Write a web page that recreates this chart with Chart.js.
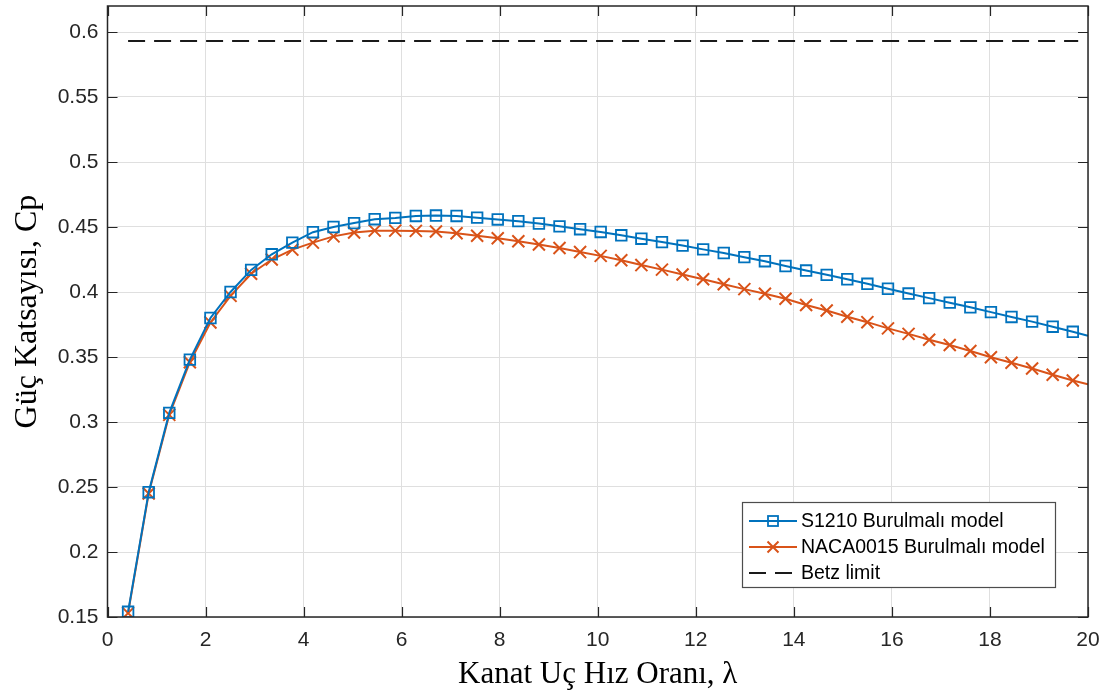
<!DOCTYPE html>
<html>
<head>
<meta charset="utf-8">
<script src="https://cdn.jsdelivr.net/npm/chart.js@4.4.1/dist/chart.umd.min.js"></script>
<style>
  html, body { margin: 0; padding: 0; background: #fff; }
</style>
</head>
<body>
<canvas id="grafico" width="1104" height="693"></canvas>
<script>
// Uç hız oranı (lambda) - son değer (20) sadece çizginin kenara kadar uzaması için, işaretsiz
const lambda = [0.42, 0.84, 1.26, 1.68, 2.10, 2.51, 2.93, 3.35, 3.77, 4.19, 4.61, 5.03, 5.45, 5.87, 6.29, 6.70,
    7.12, 7.54, 7.96, 8.38, 8.80, 9.22, 9.64, 10.06, 10.48, 10.89, 11.31, 11.73, 12.15, 12.57, 12.99, 13.41,
    13.83, 14.25, 14.67, 15.09, 15.50, 15.92, 16.34, 16.76, 17.18, 17.60, 18.02, 18.44, 18.86, 19.28, 19.69, 20];
const cpS1210 = [0.154, 0.246, 0.307, 0.348, 0.380, 0.400, 0.417, 0.429, 0.438, 0.446, 0.450, 0.453, 0.456, 0.457, 0.4585, 0.4588,
    0.4585, 0.4572, 0.4558, 0.4545, 0.4527, 0.4505, 0.4483, 0.4462, 0.4436, 0.4410, 0.4384, 0.4357, 0.4328, 0.4300, 0.4268, 0.4237,
    0.4200, 0.4165, 0.4132, 0.4098, 0.4063, 0.4025, 0.3988, 0.3953, 0.3918, 0.3882, 0.3845, 0.3808, 0.3772, 0.3733, 0.3694, 0.3663];
const cpNaca = [0.153, 0.245, 0.3055, 0.346, 0.3766, 0.397, 0.414, 0.425, 0.4326, 0.438, 0.4428, 0.4458, 0.4472, 0.4472, 0.4470, 0.4465,
    0.4452, 0.4433, 0.4413, 0.4390, 0.4365, 0.4338, 0.4307, 0.4278, 0.4244, 0.4207, 0.4172, 0.4135, 0.4098, 0.4060, 0.4022, 0.3987,
    0.3948, 0.3900, 0.3858, 0.3810, 0.3768, 0.3720, 0.3678, 0.3633, 0.3592, 0.3546, 0.3498, 0.3456, 0.3412, 0.3364, 0.3319, 0.3291];
const betzX = [0.42, 19.8];
const betzCp = [0.593, 0.593];
const xTicks = [0, 2, 4, 6, 8, 10, 12, 14, 16, 18, 20];
const yTicks = [0.15, 0.2, 0.25, 0.3, 0.35, 0.4, 0.45, 0.5, 0.55, 0.6];

const azul = "#0072BD";
const naranja = "#D95319";
const ejeColor = "#262626";
const nMarcas = 47;

const puntos = (xs, ys) => xs.map((x, i) => ({ x: x, y: ys[i] }));

// caja del eje con marcas hacia dentro (estilo MATLAB)
const marcoEjes = {
    id: "marcoEjes",
    afterDatasetsDraw(chart) {
        const { ctx, chartArea: a, scales } = chart;
        const largo = 10;
        ctx.save();
        ctx.strokeStyle = ejeColor;
        ctx.lineWidth = 1.2;
        ctx.beginPath();
        xTicks.forEach(v => {
            const px = Math.round(scales.x.getPixelForValue(v)) + 0.5;
            ctx.moveTo(px, a.bottom); ctx.lineTo(px, a.bottom - largo);
            ctx.moveTo(px, a.top); ctx.lineTo(px, a.top + largo);
        });
        yTicks.forEach(v => {
            const py = Math.round(scales.y.getPixelForValue(v)) + 0.5;
            ctx.moveTo(a.left, py); ctx.lineTo(a.left + largo, py);
            ctx.moveTo(a.right, py); ctx.lineTo(a.right - largo, py);
        });
        ctx.stroke();
        ctx.lineWidth = 1.5;
        ctx.strokeRect(a.left, a.top, a.right - a.left, a.bottom - a.top);
        ctx.restore();
    }
};

// leyenda dentro del área, abajo a la derecha
const leyenda = {
    id: "leyenda",
    afterDraw(chart) {
        const ctx = chart.ctx;
        const caja = { x: 742.5, y: 502.5, w: 313, h: 85 };
        const filas = [521, 547, 573];
        ctx.save();
        ctx.fillStyle = "#fff";
        ctx.fillRect(caja.x, caja.y, caja.w, caja.h);
        ctx.strokeStyle = "#4d4d4d";
        ctx.lineWidth = 1.2;
        ctx.strokeRect(caja.x, caja.y, caja.w, caja.h);
        chart.data.datasets.forEach((ds, i) => {
            const y = filas[i];
            ctx.strokeStyle = ds.borderColor;
            ctx.lineWidth = 2;
            ctx.setLineDash(ds.borderDash || []);
            ctx.beginPath();
            ctx.moveTo(749, y); ctx.lineTo(797, y);
            ctx.stroke();
            ctx.setLineDash([]);
            if (ds.pointStyle === "rect") {
                ctx.lineWidth = 1.8;
                ctx.strokeRect(768, y - 5, 10, 10);
            } else if (ds.pointStyle === "crossRot") {
                ctx.lineWidth = 2;
                ctx.beginPath();
                ctx.moveTo(767.5, y - 5.5); ctx.lineTo(778.5, y + 5.5);
                ctx.moveTo(767.5, y + 5.5); ctx.lineTo(778.5, y - 5.5);
                ctx.stroke();
            }
            ctx.fillStyle = "#000";
            ctx.font = "19.5px 'Liberation Sans', Arial, sans-serif";
            ctx.textBaseline = "middle";
            ctx.fillText(ds.label, 801, y + 1);
        });
        ctx.restore();
    }
};

const grafico = new Chart(document.getElementById("grafico").getContext("2d"), {
    type: "line",
    data: {
        datasets: [
            {
                label: "S1210 Burulmalı model",
                data: puntos(lambda, cpS1210),
                borderColor: azul,
                backgroundColor: "rgba(0,0,0,0)",
                borderWidth: 2,
                pointStyle: "rect",
                pointRadius: c => c.dataIndex < nMarcas ? 7.5 : 0,
                pointBorderWidth: 1.8,
                pointBorderColor: azul,
                pointBackgroundColor: "rgba(0,0,0,0)"
            },
            {
                label: "NACA0015 Burulmalı model",
                data: puntos(lambda, cpNaca),
                borderColor: naranja,
                backgroundColor: "rgba(0,0,0,0)",
                borderWidth: 2,
                pointStyle: "crossRot",
                pointRadius: c => c.dataIndex < nMarcas ? 8.5 : 0,
                pointBorderWidth: 2,
                pointBorderColor: naranja
            },
            {
                label: "Betz limit",
                data: puntos(betzX, betzCp),
                borderColor: "#1a1a1a",
                borderWidth: 2,
                borderDash: [17, 9],
                pointRadius: 0
            }
        ]
    },
    options: {
        responsive: false,
        animation: false,
        events: [],
        layout: { autoPadding: false, padding: { top: 6, right: 16, left: 0, bottom: 0 } },
        plugins: {
            legend: { display: false },
            tooltip: { enabled: false }
        },
        scales: {
            x: {
                type: "linear",
                min: 0,
                max: 20,
                afterFit: s => { s.height = 76; s.paddingLeft = 0; s.paddingRight = 0; },
                afterBuildTicks: s => { s.ticks = xTicks.map(v => ({ value: v })); },
                grid: { color: "#dfdfdf", drawTicks: false },
                border: { display: false },
                ticks: {
                    padding: 11,
                    color: ejeColor,
                    font: { family: "'Liberation Sans', Arial, sans-serif", size: 21 },
                    maxRotation: 0
                },
                title: {
                    display: true,
                    text: "Kanat Uç Hız Oranı, λ",
                    color: "#000",
                    font: { family: "'Liberation Serif', 'Times New Roman', serif", size: 31 },
                    padding: { top: 0, bottom: 0 }
                }
            },
            y: {
                type: "linear",
                min: 0.15,
                max: 0.62,
                afterFit: s => { s.width = 107.5; s.paddingTop = 0; s.paddingBottom = 0; },
                afterBuildTicks: s => { s.ticks = yTicks.map(v => ({ value: v })); },
                grid: { color: "#dfdfdf", drawTicks: false },
                border: { display: false },
                ticks: {
                    padding: 9,
                    color: ejeColor,
                    font: { family: "'Liberation Sans', Arial, sans-serif", size: 21 },
                    callback: v => String(Number(v.toFixed(2)))
                },
                title: {
                    display: true,
                    text: "Güç Katsayısı, Cp",
                    color: "#000",
                    font: { family: "'Liberation Serif', 'Times New Roman', serif", size: 32 },
                    padding: { top: 8, bottom: 0 }
                }
            }
        }
    },
    plugins: [marcoEjes, leyenda]
});
</script>
</body>
</html>
